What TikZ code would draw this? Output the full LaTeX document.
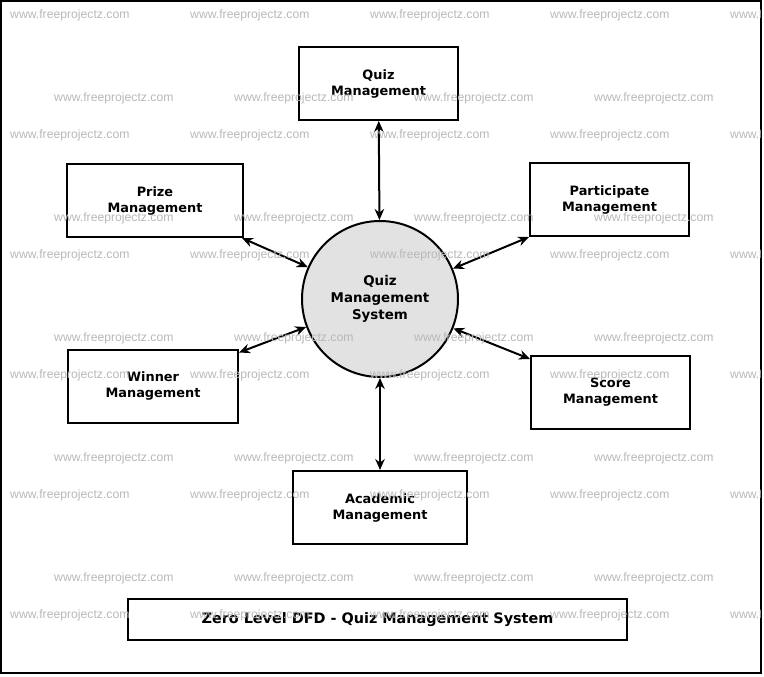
\documentclass[tikz,border=0pt]{standalone}
\usepackage{fontspec}
\setmainfont{DejaVu Sans}
\newfontfamily\wmfont{Liberation Sans}
\usetikzlibrary{arrows.meta}
\definecolor{sysfill}{HTML}{E2E2E2}
\definecolor{wmgray}{HTML}{B8B8B8}
\tikzset{
    every node/.style={font=\bfseries\fontsize{12.9}{16}\selectfont, align=center},
    entity/.style={draw, line width=2pt, minimum height=73pt, inner sep=0pt},
    process/.style={circle, draw, line width=2pt, fill=sysfill,
        minimum size=156pt, inner sep=0pt, font=\bfseries\fontsize{13.4}{17}\selectfont},
    flow/.style={line width=2pt, {Stealth[length=11pt,width=9.5pt]}-{Stealth[length=11pt,width=9.5pt]}},
    mark text/.style={anchor=west, inner sep=0pt, text=wmgray, font=\wmfont\fontsize{12.2}{12}\selectfont}
}
\begin{document}
\begin{tikzpicture}[x=1pt, y=-1pt]
  \useasboundingbox (0,0) rectangle (764,677);
  \draw[line width=2pt] (1,1) rectangle (761,673);

  \node (qms) [process] at (380,299) {Quiz\\Management\\System};
  \node (quiz) [entity, minimum width=159pt] at (378.5,83.5) {Quiz\\Management};
  \node (prize) [entity, minimum width=176pt] at (155,200.5) {Prize\\Management};
  \node (part) [entity, minimum width=159pt] at (609.5,199.5) {Participate\\Management};
  \node (winner) [entity, minimum width=170pt] at (153,386) {Winner\\Management};
  \node (score) [entity, minimum width=159pt] at (610.5,392.5) {Score\\Management};
  \node (acad) [entity, minimum width=174pt] at (380,507.5) {Academic\\Management};
  \node (title) [entity, minimum width=499pt, minimum height=41pt,
    font=\bfseries\fontsize{14.4}{16}\selectfont] at (377.5,619.5)
    {Zero Level DFD - Quiz Management System};

  \draw[flow] (quiz) -- (qms);
  \draw[flow] (acad) -- (qms);
  \draw[flow] ([xshift=-2pt]prize.south east) -- (qms);
  \draw[flow] (part.south west) -- (qms);
  \draw[flow] ([yshift=-4pt]winner.north east) -- (qms);
  \draw[flow] ([yshift=-4pt]score.north west) -- (qms);

  % watermark
  \begin{scope}
    \clip (2,2) rectangle (760,672);
    \foreach \r in {0,...,5} {
      \foreach \c in {0,...,4}
        \node[mark text] at (10+180*\c, 15+120*\r) {www.freeprojectz.com};
    }
    \foreach \r in {0,...,4} {
      \foreach \c in {0,...,3}
        \node[mark text] at (54+180*\c, 98+120*\r) {www.freeprojectz.com};
    }
  \end{scope}
\end{tikzpicture}
\end{document}
